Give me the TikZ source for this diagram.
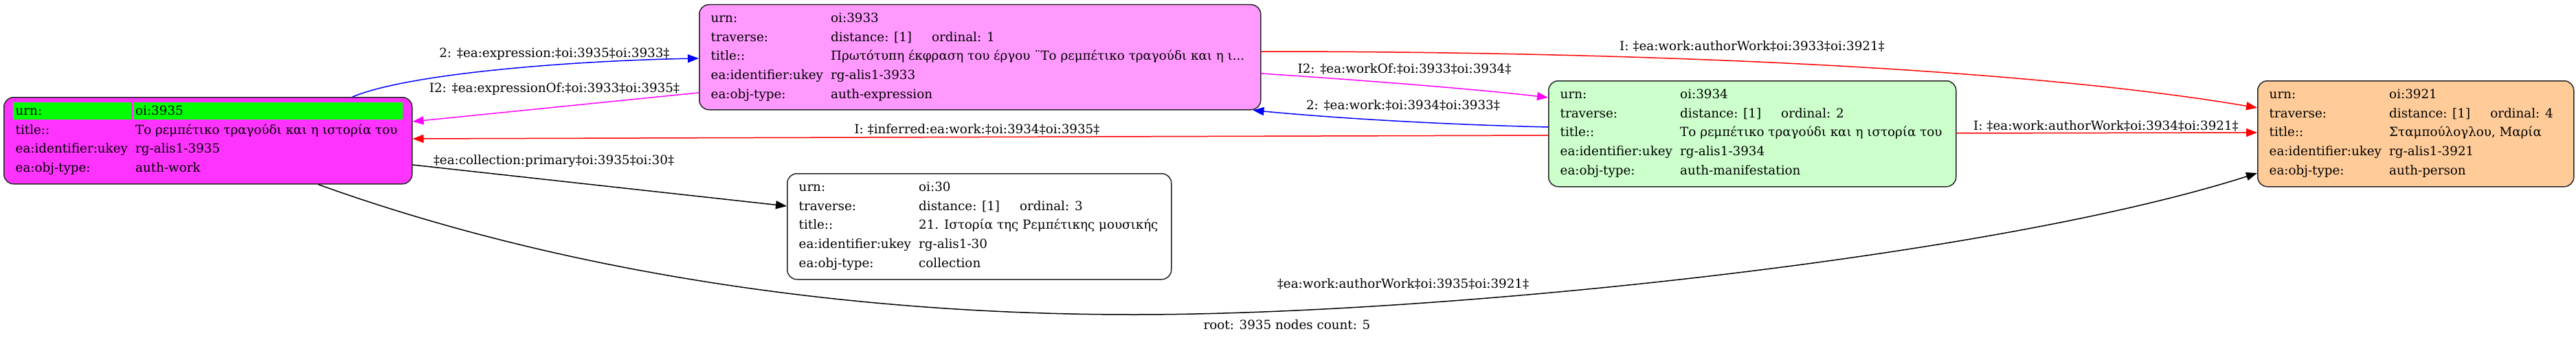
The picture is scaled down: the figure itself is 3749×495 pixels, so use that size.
\documentclass[tikz,border=0pt]{standalone}
\usepackage{fontspec}
\setmainfont{DejaVu Serif}
\usetikzlibrary{calc,arrows.meta}
\definecolor{cwork}{HTML}{FF33FF}
\definecolor{cexpr}{HTML}{FF99FF}
\definecolor{cmani}{HTML}{CCFFCC}
\definecolor{cpers}{HTML}{FFCC99}
\definecolor{cgreen}{HTML}{00FF00}
\definecolor{cmag}{HTML}{FF00FF}
\tikzset{
  box/.style={draw=black!85, line width=1.5pt, rounded corners=14pt, anchor=north west, inner sep=0pt},
  gcell/.style={fill=cgreen, draw=none, anchor=north west, inner sep=0pt},
  txt/.style={anchor=base west, inner sep=0pt, font=\fontsize{18.3}{22}\selectfont},
  elab/.style={anchor=base, inner sep=0pt, font=\fontsize{18.3}{22}\selectfont},
  conn/.style={line width=1.5pt, -{Triangle[length=16pt,width=12pt]}},
}
\newcommand\rrow[4]{%
  \node[txt] (#1l#2) at ($(#1.north west)+(17.5,{26.5+27.7*(#2-1)})$) {#3};
  \node[txt] (#1v#2) at ($(#1.north west)+(192,{26.5+27.7*(#2-1)})$) {#4};}
\newcommand\rord[2]{%
  \node[txt] (#1ord) at ($(#1.north west)+(339,{26.5+27.7})$) {#2};}
\begin{document}
\begin{tikzpicture}[x=1pt,y=-1pt]
\useasboundingbox (0,0) rectangle (3749,495);
% boxes
\node[box, fill=cwork, minimum width=594pt, minimum height=126pt] (n3935) at (5,141) {};
\node[box, fill=cexpr, minimum width=817pt, minimum height=153pt] (n3933) at (1017,6) {};
\node[box, fill=cmani, minimum width=593pt, minimum height=154pt] (n3934) at (2253,117) {};
\node[box, fill=cpers, minimum width=460pt, minimum height=154pt] (n3921) at (3285,117) {};
\node[box, fill=white, minimum width=559pt, minimum height=154pt] (n30) at (1145,252) {};
% green urn row of root
\node[gcell, minimum width=172pt, minimum height=25pt] (g3935a) at ($(n3935.north west)+(14,8)$) {};
\node[gcell, minimum width=392pt, minimum height=25pt] (g3935b) at ($(n3935.north west)+(189,8)$) {};
% rows
\rrow{n3935}{1}{urn:}{oi:3935}
\rrow{n3935}{2}{title::}{Το ρεμπέτικο τραγούδι και η ιστορία του}
\rrow{n3935}{3}{ea:identifier:ukey}{rg-alis1-3935}
\rrow{n3935}{4}{ea:obj-type:}{auth-work}
\rrow{n3933}{1}{urn:}{oi:3933}
\rrow{n3933}{2}{traverse:}{distance: [1]}
\rord{n3933}{ordinal: 1}
\rrow{n3933}{3}{title::}{Πρωτότυπη έκφραση του έργου ¨Το ρεμπέτικο τραγούδι και η ι...}
\rrow{n3933}{4}{ea:identifier:ukey}{rg-alis1-3933}
\rrow{n3933}{5}{ea:obj-type:}{auth-expression}
\rrow{n3934}{1}{urn:}{oi:3934}
\rrow{n3934}{2}{traverse:}{distance: [1]}
\rord{n3934}{ordinal: 2}
\rrow{n3934}{3}{title::}{Το ρεμπέτικο τραγούδι και η ιστορία του}
\rrow{n3934}{4}{ea:identifier:ukey}{rg-alis1-3934}
\rrow{n3934}{5}{ea:obj-type:}{auth-manifestation}
\rrow{n3921}{1}{urn:}{oi:3921}
\rrow{n3921}{2}{traverse:}{distance: [1]}
\rord{n3921}{ordinal: 4}
\rrow{n3921}{3}{title::}{Σταμπούλογλου, Μαρία}
\rrow{n3921}{4}{ea:identifier:ukey}{rg-alis1-3921}
\rrow{n3921}{5}{ea:obj-type:}{auth-person}
\rrow{n30}{1}{urn:}{oi:30}
\rrow{n30}{2}{traverse:}{distance: [1]}
\rord{n30}{ordinal: 3}
\rrow{n30}{3}{title::}{21. Ιστορία της Ρεμπέτικης μουσικής}
\rrow{n30}{4}{ea:identifier:ukey}{rg-alis1-30}
\rrow{n30}{5}{ea:obj-type:}{collection}
% connectors
\coordinate (e9mid) at (1650,458);
\draw[conn, blue] ($(n3935.north west)+(508,0)$) .. controls (600,105) and (850,88) .. ($(n3933.north west)+(0,79)$);
\draw[conn, cmag] ($(n3933.north west)+(0,129)$) -- ($(n3935.north east)+(0,36)$);
\draw[conn, red] ($(n3934.north west)+(0,80)$) -- ($(n3935.north east)+(0,61)$);
\draw[conn, black] ($(n3935.north east)+(0,99)$) -- ($(n30.north west)+(0,48)$);
\draw[conn, red] ($(n3933.north east)+(0,69)$) .. controls (2400,75) and (2950,100) .. ($(n3921.north west)+(0,40)$);
\draw[conn, cmag] ($(n3933.north east)+(0,101)$) .. controls (2000,118) and (2150,130) .. ($(n3934.north west)+(0,25)$);
\draw[conn, blue] ($(n3934.north west)+(0,68)$) .. controls (2050,180) and (1900,168) .. ($(n3933.south east)+(-12,0)$);
\draw[conn, red] ($(n3934.north east)+(0,77)$) -- ($(n3921.north west)+(0,76)$);
\draw[conn, black] ($(n3935.south west)+(458,0)$) .. controls (800,390) and (1212,458) .. (e9mid) .. controls (2100,458) and (2900,375) .. ($(n3921.north west)+(0,135)$);
% connector labels
\node[elab] (l1) at (807,83) {2: ‡ea:expression:‡oi:3935‡oi:3933‡};
\node[elab] (l2) at (807,134) {I2: ‡ea:expressionOf:‡oi:3933‡oi:3935‡};
\node[elab] (l3) at (1422,194) {I: ‡inferred:ea:work:‡oi:3934‡oi:3935‡};
\node[elab] (l4) at (806,239) {‡ea:collection:primary‡oi:3935‡oi:30‡};
\node[elab] (l5) at (2550,74) {I: ‡ea:work:authorWork‡oi:3933‡oi:3921‡};
\node[elab] (l6) at (2044,106) {I2: ‡ea:workOf:‡oi:3933‡oi:3934‡};
\node[elab] (l7) at (2042,159) {2: ‡ea:work:‡oi:3934‡oi:3933‡};
\node[elab] (l8) at (3065,189) {I: ‡ea:work:authorWork‡oi:3934‡oi:3921‡};
\node[elab] (l9) at (2042,419) {‡ea:work:authorWork‡oi:3935‡oi:3921‡};
\node[elab] (root) at (1873,479) {root: 3935 nodes count: 5};
\end{tikzpicture}
\end{document}
